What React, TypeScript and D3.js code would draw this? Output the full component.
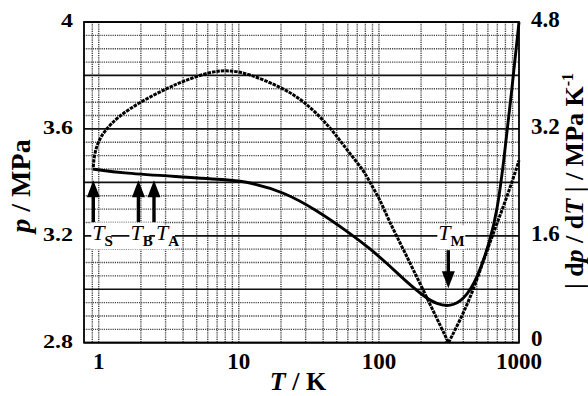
import React from "react"
import * as d3 from "d3"

// saturation pressure p (left axis, MPa) vs T
const pT = [0.906, 1.5, 3.81, 8.65, 12, 20.8, 36, 62.4, 86.7, 114, 150, 208, 260, 323, 402, 501, 624, 700, 773, 881, 1000]
const pVal = [3.45, 3.434, 3.421, 3.409, 3.4, 3.365, 3.296, 3.209, 3.151, 3.097, 3.038, 2.974, 2.943, 2.935, 2.96, 3.035, 3.184, 3.296, 3.465, 3.727, 4.0]

// |dp/dT| (right axis, MPa K-1) vs T
const dT = [0.915, 0.925, 0.977, 1.09, 1.36, 2.0, 3.09, 4.07, 6.3, 8.7, 12, 19.7, 28.9, 44.9, 59, 77.6, 86.7, 102, 117, 150, 208, 314, 449, 590, 777, 968, 1000]
const dVal = [2.63, 2.78, 2.985, 3.16, 3.38, 3.61, 3.81, 3.92, 4.06, 4.08, 4.02, 3.83, 3.63, 3.23, 2.885, 2.585, 2.39, 2.14, 1.84, 1.39, 0.78, 0, 0.64, 1.39, 2.04, 2.63, 2.73]

const xTicks = [1, 10, 100, 1000]
const leftTicks = [2.8, 3.2, 3.6, 4]
const rightTicks = [0, 1.6, 3.2, 4.8]

// marked temperatures
const upMarks = ["S", "B", "A"]
const upT = [0.915, 1.92, 2.48]
const tM = 313

const W = 588
const H = 396
const x0 = 84, x1 = 519, y0 = 22, y1 = 342.7
const serif = "'Liberation Serif', 'Times New Roman', serif"

export default function App() {
  const x = d3.scaleLog().domain([0.785, 1000]).range([x0, x1])
  const yL = d3.scaleLinear().domain([2.8, 4.0]).range([y1, y0])
  const yR = d3.scaleLinear().domain([0, 4.8]).range([y1, y0])

  const vGrid: number[] = [0.9]
  ;[1, 10, 100].forEach(k => d3.range(1, 10).forEach(m => vGrid.push(m * k)))
  const hGrid = d3.range(0, 25).map(i => 2.8 + i * 0.05)

  const solid = pT.map((t, i) => [t, pVal[i]])
  const dash = dT.map((t, i) => [t, dVal[i]])
  const vi = dVal.indexOf(0)
  const dashL = dash.slice(0, vi + 1)
  const dashR = dash.slice(vi)

  const lineP = d3.line<number[]>().x(d => x(d[0])).y(d => yL(d[1])).curve(d3.curveBasis)
  const lineD = d3.line<number[]>().x(d => x(d[0])).y(d => yR(d[1])).curve(d3.curveBasis)

  const upArrow = (t: number, i: number) => {
    const cx = x(t)
    const tip = yL(3.408)
    const tail = yL(3.251)
    return (
      <g key={"ua" + i}>
        <line x1={cx} x2={cx} y1={tail} y2={tip + 12} stroke="#000" strokeWidth={3.4} />
        <polygon points={`${cx},${tip} ${cx - 6.5},${tip + 17} ${cx + 6.5},${tip + 17}`} fill="#000" />
      </g>
    )
  }

  const label = (sub: string, lx: number, key: string) => {
    const by = yL(3.2) + 4.5
    return (
      <g key={key}>
        <rect x={lx - 1} y={by - 15} width={sub === "M" ? 28 : 20} height={24} fill="#fff" />
        <text x={lx} y={by} fontFamily={serif} fontSize={22}>
          <tspan fontStyle="italic">T</tspan>
          <tspan dy={6} fontSize={15} fontWeight="bold">{sub}</tspan>
        </text>
      </g>
    )
  }

  const labelX = [x(upT[0]) - 1, x(upT[1]) - 8, x(upT[2]) + 2]
  const mx = x(tM)

  return (
    <svg width={W} height={H} style={{ position: "absolute", left: 0, top: 0, background: "#fff" }}>
      {/* grid */}
      {vGrid.map((t, i) => (
        <line key={"v" + i} x1={x(t)} x2={x(t)} y1={y0} y2={y1} stroke="#444" strokeWidth={1.4} strokeDasharray="1.2,1" />
      ))}
      {hGrid.map((v, i) => (
        i % 4 === 0 ? null :
        <line key={"h" + i} x1={x0} x2={x1} y1={yL(v)} y2={yL(v)} stroke="#444" strokeWidth={1.4} strokeDasharray="1.2,1" />
      ))}
      {/* white area behind marker labels */}
      <rect x={x(0.88)} y={yL(3.25)} width={x(2.9) - x(0.88)} height={yL(3.15) - yL(3.25)} fill="#fff" />
      {hGrid.map((v, i) => (
        i % 4 !== 0 ? null :
        <line key={"hm" + i} x1={x0} x2={x1} y1={yL(v)} y2={yL(v)} stroke="#111" strokeWidth={1.7} />
      ))}
      <rect x={x0} y={y0} width={x1 - x0} height={y1 - y0} fill="none" stroke="#000" strokeWidth={1.8} />

      {/* curves */}
      <path d={lineD(dashL) || ""} fill="none" stroke="#000" strokeWidth={3} strokeDasharray="3.5,1" />
      <path d={lineD(dashR) || ""} fill="none" stroke="#000" strokeWidth={3} strokeDasharray="3.5,1" />
      <path d={lineP(solid) || ""} fill="none" stroke="#000" strokeWidth={2.9} />

      {/* markers */}
      {upT.map((t, i) => upArrow(t, i))}
      {upMarks.map((s, i) => label(s, labelX[i], "l" + s))}
      <line x1={mx} x2={mx} y1={yL(3.146)} y2={yL(3.004) - 12} stroke="#000" strokeWidth={3.4} />
      <polygon points={`${mx},${yL(3.004)} ${mx - 6.5},${yL(3.004) - 17} ${mx + 6.5},${yL(3.004) - 17}`} fill="#000" />
      {label("M", mx - 10, "lM")}

      {/* tick labels */}
      {xTicks.map(t => (
        <text key={"xt" + t} x={x(t)} y={369} textAnchor="middle" fontFamily={serif} fontWeight="bold" fontSize={23}>{t}</text>
      ))}
      {leftTicks.map(v => (
        <text key={"lt" + v} transform={`translate(73,${yL(v) + 5}) scale(1,0.8)`} textAnchor="end" fontFamily={serif} fontWeight="bold" fontSize={24}>{v}</text>
      ))}
      {rightTicks.map(v => (
        <text key={"rt" + v} x={531} y={yR(v) + (v === 0 ? 3 : 5)} fontFamily={serif} fontWeight="bold" fontSize={23}>{v}</text>
      ))}

      {/* axis titles */}
      <text x={298} y={390} textAnchor="middle" fontFamily={serif} fontWeight="bold" fontSize={26}>
        <tspan fontStyle="italic">T</tspan> / K
      </text>
      <text transform="translate(30,186) rotate(-90)" textAnchor="middle" fontFamily={serif} fontWeight="bold" fontSize={28}>
        <tspan fontStyle="italic">p</tspan> / MPa
      </text>
      <text transform="translate(583,181) rotate(-90)" textAnchor="middle" fontFamily={serif} fontWeight="bold" fontSize={26}>
        | d<tspan fontStyle="italic">p</tspan> / d<tspan fontStyle="italic">T</tspan> | / MPa K<tspan dy={-10} fontSize={16}>-1</tspan>
      </text>
    </svg>
  )
}
